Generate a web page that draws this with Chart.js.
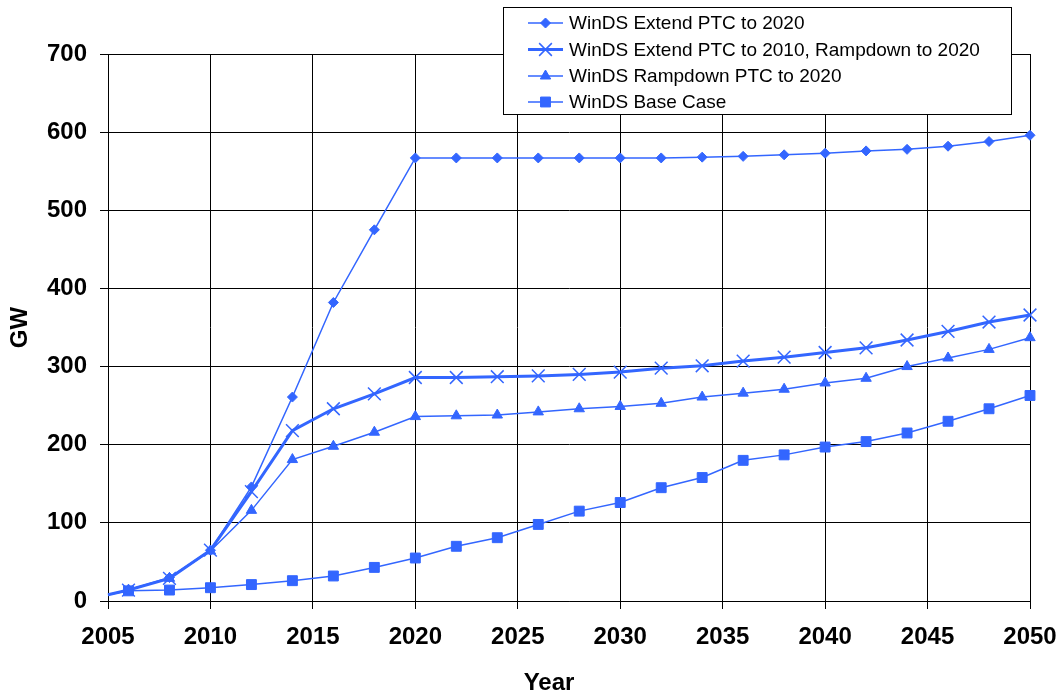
<!DOCTYPE html>
<html>
<head>
<meta charset="utf-8">
<script src="https://cdn.jsdelivr.net/npm/chart.js@4.4.6/dist/chart.umd.min.js"></script>
<style>
  html, body { margin: 0; padding: 0; background: #fff; }
  #wrap { width: 1060px; height: 693px; position: relative; }
</style>
</head>
<body>
<div id="wrap"><canvas id="c"></canvas></div>
<script>
// ---------------------------------------------------------------------------
// WinDS scenarios — installed wind capacity (GW), 2005-2050
// ---------------------------------------------------------------------------
const years = [2005, 2006, 2008, 2010, 2012, 2014, 2016, 2018, 2020, 2022, 2024, 2026,
  2028, 2030, 2032, 2034, 2036, 2038, 2040, 2042, 2044, 2046, 2048, 2050]

const extend2020 = [8, 14, 30, 65, 146, 261, 382, 475, 567, 567, 567, 567,
  567, 567, 567, 568, 569, 571, 573, 576, 578, 582, 588, 596]
const extend2010 = [8, 14, 29, 65, 140, 218, 246, 265, 286, 286, 287, 288,
  290, 293, 298, 301, 307, 312, 318, 324, 334, 345, 357, 366]
const rampdown2020 = [8, 14, 29, 64, 116, 181, 198, 216, 236, 237, 238, 242,
  246, 249, 253, 261, 266, 271, 279, 285, 300, 311, 322, 337]
const baseCase = [8, 13, 14, 17, 21, 26, 32, 43, 55, 70, 81, 98,
  115, 126, 145, 158, 180, 187, 197, 204, 215, 230, 246, 263]

const seriesLabels = [
  'WinDS Extend PTC to 2020',
  'WinDS Extend PTC to 2010, Rampdown to 2020',
  'WinDS Rampdown PTC to 2020',
  'WinDS Base Case'
]

const xTicks = [2005, 2010, 2015, 2020, 2025, 2030, 2035, 2040, 2045, 2050]
const yTicks = [0, 100, 200, 300, 400, 500, 600, 700]
const xTitle = 'Year'
const yTitle = 'GW'

const BLUE = '#3366FF'
const FONT = '"Liberation Sans", Arial, Helvetica, sans-serif'

function pts (vals) { return years.map((y, i) => ({ x: y, y: vals[i] })) }

// first point (2005) only carries the line, no marker
function ds (label, vals, style, radius, width, markerBorder) {
  return {
    label,
    data: pts(vals),
    borderColor: BLUE,
    backgroundColor: BLUE,
    borderWidth: width,
    pointStyle: style,
    pointRadius: c => c.dataIndex === 0 ? 0 : radius,
    pointBorderWidth: markerBorder,
    pointBorderColor: BLUE,
    pointBackgroundColor: BLUE,
    legendRadius: radius,
    tension: 0,
    clip: false
  }
}

// legend box over the plot (top right) + x title, which sits left of centre
const boxLegend = {
  id: 'boxLegend',
  afterDraw (chart) {
    const ctx = chart.ctx
    const x0 = 503, y0 = 7, w = 508, h = 107
    ctx.save()
    ctx.fillStyle = '#fff'
    ctx.fillRect(x0, y0, w, h)
    ctx.strokeStyle = '#000'
    ctx.lineWidth = 1
    ctx.strokeRect(x0 + 0.5, y0 + 0.5, w, h)
    const rowY = [23, 49.5, 76, 102]
    chart.data.datasets.forEach((d, i) => {
      const y = rowY[i]
      ctx.strokeStyle = d.borderColor
      ctx.lineWidth = d.borderWidth
      ctx.beginPath()
      ctx.moveTo(528, y)
      ctx.lineTo(563, y)
      ctx.stroke()
      ctx.fillStyle = BLUE
      ctx.strokeStyle = BLUE
      ctx.lineWidth = d.pointBorderWidth
      Chart.helpers.drawPoint(ctx, { pointStyle: d.pointStyle, radius: d.legendRadius, rotation: 0, borderWidth: d.pointBorderWidth }, 545.5, y)
      ctx.fillStyle = '#000'
      ctx.font = '19px ' + FONT
      ctx.textBaseline = 'middle'
      ctx.textAlign = 'left'
      ctx.fillText(d.label, 569, y + 1)
    })

    ctx.fillStyle = '#000'
    ctx.font = 'bold 24px ' + FONT
    ctx.textAlign = 'center'
    ctx.textBaseline = 'middle'
    ctx.fillText(xTitle, 549, 683)
    ctx.restore()
  }
}

const datasets = [
  ds(seriesLabels[0], extend2020, 'rectRot', 5, 1.5, 1),
  ds(seriesLabels[1], extend2010, 'crossRot', 9, 3, 1.5),
  ds(seriesLabels[2], rampdown2020, 'triangle', 6, 1.5, 1),
  ds(seriesLabels[3], baseCase, 'rect', 7, 1.5, 1)
]

new Chart(document.getElementById('c'), {
  type: 'line',
  data: { datasets },
  plugins: [boxLegend],
  options: {
    responsive: true,
    maintainAspectRatio: false,
    animation: false,
    layout: { padding: { top: 54, right: 30, left: 0, bottom: 0 } },
    plugins: { legend: { display: false }, tooltip: { enabled: false } },
    scales: {
      x: {
        type: 'linear',
        min: 2005,
        max: 2050,
        afterBuildTicks: s => { s.ticks = xTicks.map(v => ({ value: v })) },
        afterFit: s => { s.height = 92; s.paddingLeft = 0; s.paddingRight = 0 },
        ticks: {
          color: '#000',
          font: { family: FONT, size: 24, weight: 'bold' },
          padding: 14,
          maxRotation: 0,
          autoSkip: false,
          callback: v => String(v)
        },
        grid: { color: '#000', lineWidth: 1, tickLength: 8 },
        border: { color: '#000', width: 1 },
        title: { display: false }
      },
      y: {
        min: 0,
        max: 700,
        afterBuildTicks: s => { s.ticks = yTicks.map(v => ({ value: v })) },
        afterFit: s => { s.width = 108; s.paddingTop = 0; s.paddingBottom = 0 },
        ticks: {
          color: '#000',
          font: { family: FONT, size: 24, weight: 'bold' },
          padding: 13,
          callback: v => String(v)
        },
        grid: { color: '#000', lineWidth: 1, tickLength: 8 },
        border: { color: '#000', width: 1 },
        title: {
          display: true,
          text: yTitle,
          color: '#000',
          font: { family: FONT, size: 24, weight: 'bold' },
          padding: { top: 6, bottom: 0 }
        }
      }
    }
  }
})
</script>
</body>
</html>
